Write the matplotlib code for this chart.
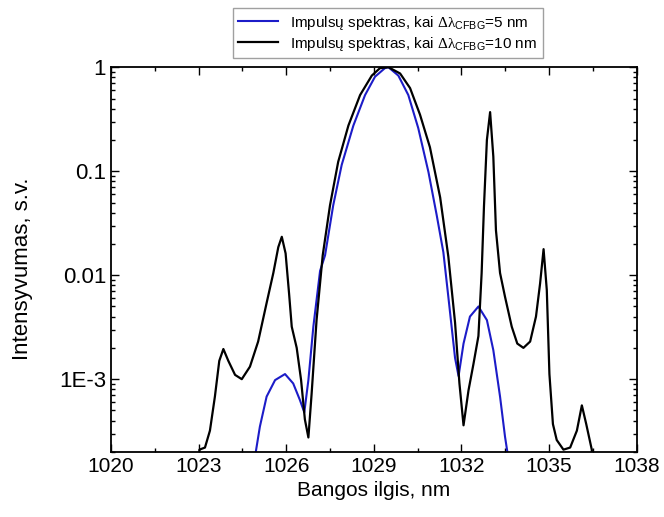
import matplotlib
matplotlib.use('Agg')
import matplotlib.pyplot as plt
from matplotlib.ticker import FixedLocator, FixedFormatter, LogLocator, NullFormatter, MultipleLocator

plt.rcParams['font.family'] = ['Liberation Sans', 'DejaVu Sans']
plt.rcParams['mathtext.fontset'] = 'custom'
plt.rcParams['mathtext.rm'] = 'Liberation Serif'
plt.rcParams['mathtext.it'] = 'Liberation Serif'
plt.rcParams['mathtext.sf'] = 'Liberation Sans'

# spectrum, dlambda_CFBG = 10 nm (black)
x10 = [1022.9, 1023.03, 1023.22, 1023.39, 1023.56, 1023.71, 1023.85, 1024.02, 1024.25,
       1024.48, 1024.76, 1025.04, 1025.33, 1025.56, 1025.73, 1025.85, 1025.98, 1026.1,
       1026.19, 1026.36, 1026.51, 1026.64, 1026.76, 1026.87, 1027.04, 1027.25, 1027.5,
       1027.78, 1028.13, 1028.53, 1028.93, 1029.21, 1029.5, 1029.9, 1030.24, 1030.58,
       1030.92, 1031.27, 1031.55, 1031.78, 1031.93, 1032.07, 1032.24, 1032.41, 1032.58,
       1032.69, 1032.77, 1032.87, 1032.98, 1033.09, 1033.18, 1033.32, 1033.49, 1033.72,
       1033.91, 1034.12, 1034.35, 1034.55, 1034.69, 1034.81, 1034.92, 1035.01, 1035.13,
       1035.26, 1035.49, 1035.72, 1035.95, 1036.12, 1036.27, 1036.46, 1036.6]
y10 = [1e-5, 2.1e-4, 2.2e-4, 3.2e-4, 6.8e-4, 1.5e-3, 1.95e-3, 1.5e-3, 1.1e-3,
       1.0e-3, 1.32e-3, 2.3e-3, 5.4e-3, 0.0105, 0.0186, 0.0234, 0.0162, 6.6e-3,
       3.2e-3, 2.0e-3, 9.8e-4, 4.1e-4, 2.75e-4, 7.2e-4, 3.7e-3, 0.0155, 0.047,
       0.123, 0.275, 0.54, 0.83, 0.98, 1.0, 0.87, 0.63, 0.35,
       0.17, 0.056, 0.0151, 3.5e-3, 9.1e-4, 3.6e-4, 7.8e-4, 1.4e-3, 2.6e-3,
       0.0105, 0.046, 0.2, 0.37, 0.138, 0.027, 0.0105, 6.2e-3, 3.2e-3,
       2.2e-3, 2.0e-3, 2.3e-3, 4.0e-3, 8.3e-3, 0.0178, 7.2e-3, 1.12e-3, 3.7e-4,
       2.6e-4, 2.1e-4, 2.2e-4, 3.2e-4, 5.6e-4, 3.7e-4, 2.1e-4, 1e-5]

# spectrum, dlambda_CFBG = 5 nm (blue)
x5 = [1024.8, 1024.96, 1025.1, 1025.33, 1025.62, 1025.96, 1026.24, 1026.47, 1026.62,
      1026.76, 1026.93, 1027.16, 1027.33, 1027.61, 1027.9, 1028.3, 1028.7, 1029.04,
      1029.38, 1029.5, 1029.84, 1030.18, 1030.52, 1030.87, 1031.15, 1031.38, 1031.55,
      1031.78, 1031.9, 1032.07, 1032.29, 1032.58, 1032.87, 1033.09, 1033.32, 1033.49,
      1033.57, 1033.7]
y5 = [1e-5, 2.0e-4, 3.5e-4, 6.8e-4, 9.8e-4, 1.12e-3, 9.1e-4, 6.3e-4, 4.8e-4,
      9.8e-4, 3.2e-3, 0.011, 0.0155, 0.047, 0.115, 0.275, 0.54, 0.81,
      0.98, 1.0, 0.83, 0.54, 0.26, 0.098, 0.038, 0.0166, 6.2e-3,
      1.6e-3, 1.07e-3, 2.2e-3, 4.0e-3, 5.0e-3, 3.7e-3, 1.9e-3, 6.8e-4, 2.8e-4,
      2.0e-4, 1e-5]

ytick_vals = [1e-3, 1e-2, 1e-1, 1]
ytick_labels = ['1E-3', '0.01', '0.1', '1']

fig = plt.figure(figsize=(6.64, 5.17), dpi=100)
ax = fig.add_axes([0.167, 0.126, 0.792, 0.744])

l5, = ax.plot(x5, y5, color='#1c1cc8', lw=1.5)
l10, = ax.plot(x10, y10, color='black', lw=1.6)

ax.set_yscale('log')
ax.set_xlim(1020, 1038)
ax.set_ylim(2e-4, 1)
ax.xaxis.set_major_locator(MultipleLocator(3))
ax.xaxis.set_minor_locator(MultipleLocator(1.5))
ax.yaxis.set_major_locator(FixedLocator(ytick_vals))
ax.yaxis.set_major_formatter(FixedFormatter(ytick_labels))
ax.yaxis.set_minor_locator(LogLocator(base=10, subs=range(2, 10)))
ax.yaxis.set_minor_formatter(NullFormatter())
ax.tick_params(which='both', direction='in', top=True, right=True, labelsize=15)
ax.tick_params(axis='y', labelsize=16)
ax.tick_params(which='major', length=6, width=1)
ax.tick_params(which='minor', length=3, width=1)
for s in ax.spines.values():
    s.set_linewidth(1.3)

ax.set_xlabel('Bangos ilgis, nm', fontsize=15, labelpad=4)
ax.set_ylabel('Intensyvumas, s.v.', fontsize=16)
ax.yaxis.set_label_coords(-0.148, 0.475)

fig.legend([l5, l10],
           [r'Impulsų spektras, kai $\Delta\lambda_{\mathsf{CFBG}}$=5 nm',
            r'Impulsų spektras, kai $\Delta\lambda_{\mathsf{CFBG}}$=10 nm'],
           loc='upper center', bbox_to_anchor=(0.584, 0.999), fontsize=11,
           frameon=True, fancybox=False, edgecolor='#888888', handlelength=2.6,
           borderpad=0.35, labelspacing=0.2)

fig.savefig('out.png', dpi=100)
